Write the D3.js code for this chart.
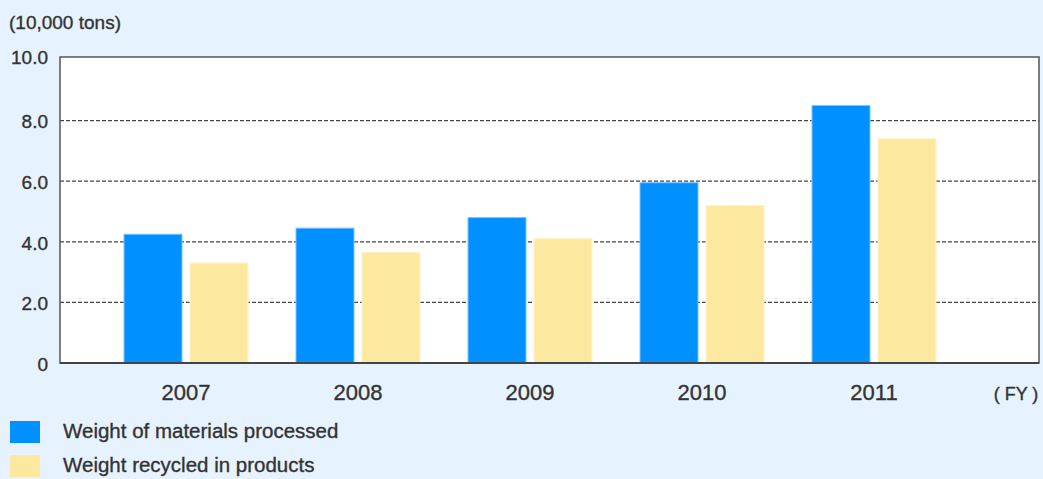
<!DOCTYPE html>
<html>
<head>
<meta charset="utf-8">
<script src="https://cdn.jsdelivr.net/npm/d3@7"></script>
<style>
  html, body { margin: 0; padding: 0; background: #e6f2fd; }
  svg { display: block; font-family: "Liberation Sans", Arial, sans-serif; }
  svg text { fill: #333; stroke: #333; stroke-width: 0.35px; }
</style>
</head>
<body>
<svg width="1043" height="479"></svg>
<script>
const years = ["2007", "2008", "2009", "2010", "2011"];
const processed = [4.25, 4.45, 4.8, 5.95, 8.5];
const recycled = [3.3, 3.65, 4.1, 5.2, 7.4];
const seriesNames = ["Weight of materials processed", "Weight recycled in products"];
const seriesColors = ["#0090ff", "#fde8a0"];
const yTicks = [0, 2, 4, 6, 8, 10];

const svg = d3.select("svg");
const plotLeft = 60, plotRight = 1039, plotTop = 57, plotBottom = 363;

// 坐标比例尺
const y = d3.scaleLinear().domain([0, 10]).range([plotBottom, 60]);
const x0 = d3.scaleBand().domain(years).range([100, 960]);
const x1 = d3.scaleBand().domain(seriesNames)
  .range([24, 148]).paddingInner(8 / 66);

// 绘图区
svg.append("rect")
  .attr("x", plotLeft).attr("y", plotTop)
  .attr("width", plotRight - plotLeft).attr("height", plotBottom - plotTop)
  .attr("fill", "#fff");

// y轴刻度
const gy = svg.append("g").attr("transform", `translate(${plotLeft},0)`)
  .call(d3.axisLeft(y).tickValues(yTicks)
    .tickFormat(d => d === 0 ? "0" : d3.format(".1f")(d))
    .tickSize(0).tickPadding(12));
gy.select(".domain").remove();
gy.selectAll("text").style("font-size", "19px")
  .attr("dy", d => d === 10 ? "0.2em" : "0.38em");

// 网格线
svg.append("g").selectAll("line")
  .data(yTicks.filter(d => d > 0 && d < 10))
  .enter().append("line")
  .attr("x1", plotLeft).attr("x2", plotRight)
  .attr("y1", d => y(d)).attr("y2", d => y(d))
  .attr("stroke", "#444").attr("stroke-width", 1.2)
  .attr("stroke-dasharray", "4,2");

// 柱子
const rows = years.map((yr, i) => ({ year: yr, values: [processed[i], recycled[i]] }));
svg.append("g").selectAll("g")
  .data(rows).enter().append("g")
  .attr("transform", d => `translate(${x0(d.year)},0)`)
  .selectAll("rect")
  .data(d => d.values.map((v, j) => ({ name: seriesNames[j], v, j })))
  .enter().append("rect")
  .attr("x", d => x1(d.name))
  .attr("y", d => y(d.v))
  .attr("width", x1.bandwidth())
  .attr("height", d => plotBottom - y(d.v))
  .attr("fill", d => seriesColors[d.j])
  .attr("stroke", d => d.j === 0 ? "#7cc4ff" : "#fff3c8")
  .attr("stroke-width", 1);

// 边框
svg.append("rect")
  .attr("x", plotLeft).attr("y", plotTop)
  .attr("width", plotRight - plotLeft).attr("height", plotBottom - plotTop)
  .attr("fill", "none").attr("stroke", "#555").attr("stroke-width", 1.5);
svg.append("line")
  .attr("x1", plotLeft).attr("x2", plotRight)
  .attr("y1", plotBottom).attr("y2", plotBottom)
  .attr("stroke", "#444").attr("stroke-width", 2);

// x轴
const gx = svg.append("g").attr("transform", `translate(0,${plotBottom})`)
  .call(d3.axisBottom(x0).tickSize(0).tickPadding(21));
gx.select(".domain").remove();
gx.selectAll("text").style("font-size", "22px");

svg.append("text").attr("x", 1016).attr("y", 400)
  .attr("text-anchor", "middle")
  .style("font-size", "18px").text("( FY )");

svg.append("text").attr("x", 9).attr("y", 29)
  .style("font-size", "19px").text("(10,000 tons)");

// 图例
const legend = svg.append("g").selectAll("g")
  .data(seriesNames).enter().append("g")
  .attr("transform", (d, i) => `translate(10,${421 + i * 34})`);
legend.append("rect")
  .attr("width", 30).attr("height", 22)
  .attr("fill", (d, i) => seriesColors[i]);
legend.append("text")
  .attr("x", 53).attr("y", 17)
  .style("font-size", "20.5px")
  .text(d => d);
</script>
</body>
</html>
